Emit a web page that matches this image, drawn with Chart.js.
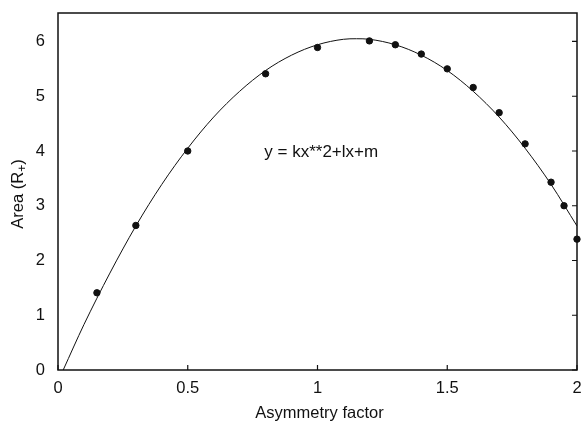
<!DOCTYPE html>
<html>
<head>
<meta charset="utf-8">
<script src="https://cdn.jsdelivr.net/npm/chart.js@4.4.0/dist/chart.umd.min.js"></script>
<style>
  html, body { margin: 0; padding: 0; background: #fff; }
  #wrap { width: 582px; height: 422px; }
</style>
</head>
<body>
<div id="wrap"><canvas id="fitChart"></canvas></div>
<script>
/* measured points */
var pointX = [0.15, 0.3, 0.5, 0.8, 1.0, 1.2, 1.3, 1.4, 1.5, 1.6, 1.7, 1.8, 1.9, 1.95, 2.0];
var pointY = [1.41, 2.64, 4.0, 5.41, 5.89, 6.01, 5.94, 5.77, 5.5, 5.16, 4.7, 4.13, 3.43, 3.0, 2.39];

/* fitted curve */
var curveX = [0.02, 0.1, 0.2, 0.3, 0.4, 0.5, 0.6, 0.7, 0.8, 0.9, 1.0, 1.1, 1.15, 1.2, 1.3, 1.4, 1.5, 1.6, 1.7, 1.8, 1.9, 2.0];
var curveY = [0.0, 0.83, 1.77, 2.63, 3.39, 4.05, 4.62, 5.09, 5.47, 5.75, 5.94, 6.04, 6.05, 6.04, 5.94, 5.75, 5.47, 5.09, 4.62, 4.05, 3.39, 2.63];

var xTicks = [0, 0.5, 1, 1.5, 2];
var yTicks = [0, 1, 2, 3, 4, 5, 6];
var xTitle = 'Asymmetry factor';
var yTitleParts = ['Area (R', '+', ')'];  // middle part is a subscript
var fitLabel = 'y = kx**2+lx+m';

var ink = '#111';
var fontFamily = '"Liberation Sans", Arial, Helvetica, sans-serif';

function pairs(xs, ys) {
  return xs.map(function(x, i) { return { x: x, y: ys[i] }; });
}

/* ── frame, inward ticks, labels and the formula ── */
var framePlugin = {
  id: 'frame',
  afterDraw: function(chart) {
    var ctx = chart.ctx;
    var a = chart.chartArea;
    var xs = chart.scales.x, ys = chart.scales.y;
    ctx.save();
    ctx.strokeStyle = ink;
    ctx.lineWidth = 1.5;
    ctx.strokeRect(a.left, a.top, a.right - a.left, a.bottom - a.top);

    ctx.lineWidth = 1.2;
    ctx.beginPath();
    xTicks.forEach(function(t) {
      var px = xs.getPixelForValue(t);
      ctx.moveTo(px, a.bottom);
      ctx.lineTo(px, a.bottom - 5);
    });
    yTicks.forEach(function(t) {
      var py = ys.getPixelForValue(t);
      ctx.moveTo(a.right, py);
      ctx.lineTo(a.right - 5, py);
    });
    ctx.stroke();

    ctx.fillStyle = ink;
    ctx.font = '16.5px ' + fontFamily;
    ctx.textBaseline = 'middle';

    // tick labels
    ctx.textAlign = 'right';
    yTicks.forEach(function(t) {
      ctx.fillText(String(t), a.left - 13, ys.getPixelForValue(t));
    });
    ctx.textAlign = 'center';
    xTicks.forEach(function(t) {
      ctx.fillText(String(t), xs.getPixelForValue(t), a.bottom + 18);
    });

    // axis titles
    ctx.fillText(xTitle, (a.left + a.right) / 2 + 2, a.bottom + 43);

    ctx.save();
    ctx.translate(18.5, 194);
    ctx.rotate(-Math.PI / 2);
    var bigFont = '16.5px ' + fontFamily, smallFont = '12px ' + fontFamily;
    ctx.font = bigFont;
    var w0 = ctx.measureText(yTitleParts[0]).width;
    var w2 = ctx.measureText(yTitleParts[2]).width;
    ctx.font = smallFont;
    var w1 = ctx.measureText(yTitleParts[1]).width;
    var x0 = -(w0 + w1 + w2) / 2;
    ctx.textAlign = 'left';
    ctx.font = bigFont;
    ctx.fillText(yTitleParts[0], x0, 0);
    ctx.font = smallFont;
    ctx.fillText(yTitleParts[1], x0 + w0, 4);
    ctx.font = bigFont;
    ctx.fillText(yTitleParts[2], x0 + w0 + w1, 0);
    ctx.restore();

    // fit formula
    ctx.font = '17px ' + fontFamily;
    ctx.textAlign = 'left';
    ctx.fillText(fitLabel, xs.getPixelForValue(0.795), ys.getPixelForValue(3.98));
    ctx.restore();
  }
};

new Chart(document.getElementById('fitChart'), {
  type: 'scatter',
  data: {
    datasets: [
      {
        data: pairs(curveX, curveY),
        showLine: true,
        borderColor: ink,
        borderWidth: 1,
        pointRadius: 0,
        cubicInterpolationMode: 'monotone',
        fill: false
      },
      {
        data: pairs(pointX, pointY),
        backgroundColor: ink,
        borderColor: ink,
        pointRadius: 3.2,
        clip: false
      }
    ]
  },
  options: {
    responsive: true,
    maintainAspectRatio: false,
    animation: false,
    layout: { padding: { top: 13, right: 4, left: 0, bottom: 0 } },
    plugins: {
      legend: { display: false },
      tooltip: { enabled: false }
    },
    scales: {
      x: {
        type: 'linear',
        min: 0,
        max: 2,
        afterFit: function(s) { s.height = 52; },
        grid: { display: false, drawTicks: false },
        border: { display: false },
        ticks: { display: false }
      },
      y: {
        type: 'linear',
        min: 0,
        max: 6.52,
        afterFit: function(s) { s.width = 58; },
        grid: { display: false, drawTicks: false },
        border: { display: false },
        ticks: { display: false }
      }
    }
  },
  plugins: [framePlugin]
});
</script>
</body>
</html>
